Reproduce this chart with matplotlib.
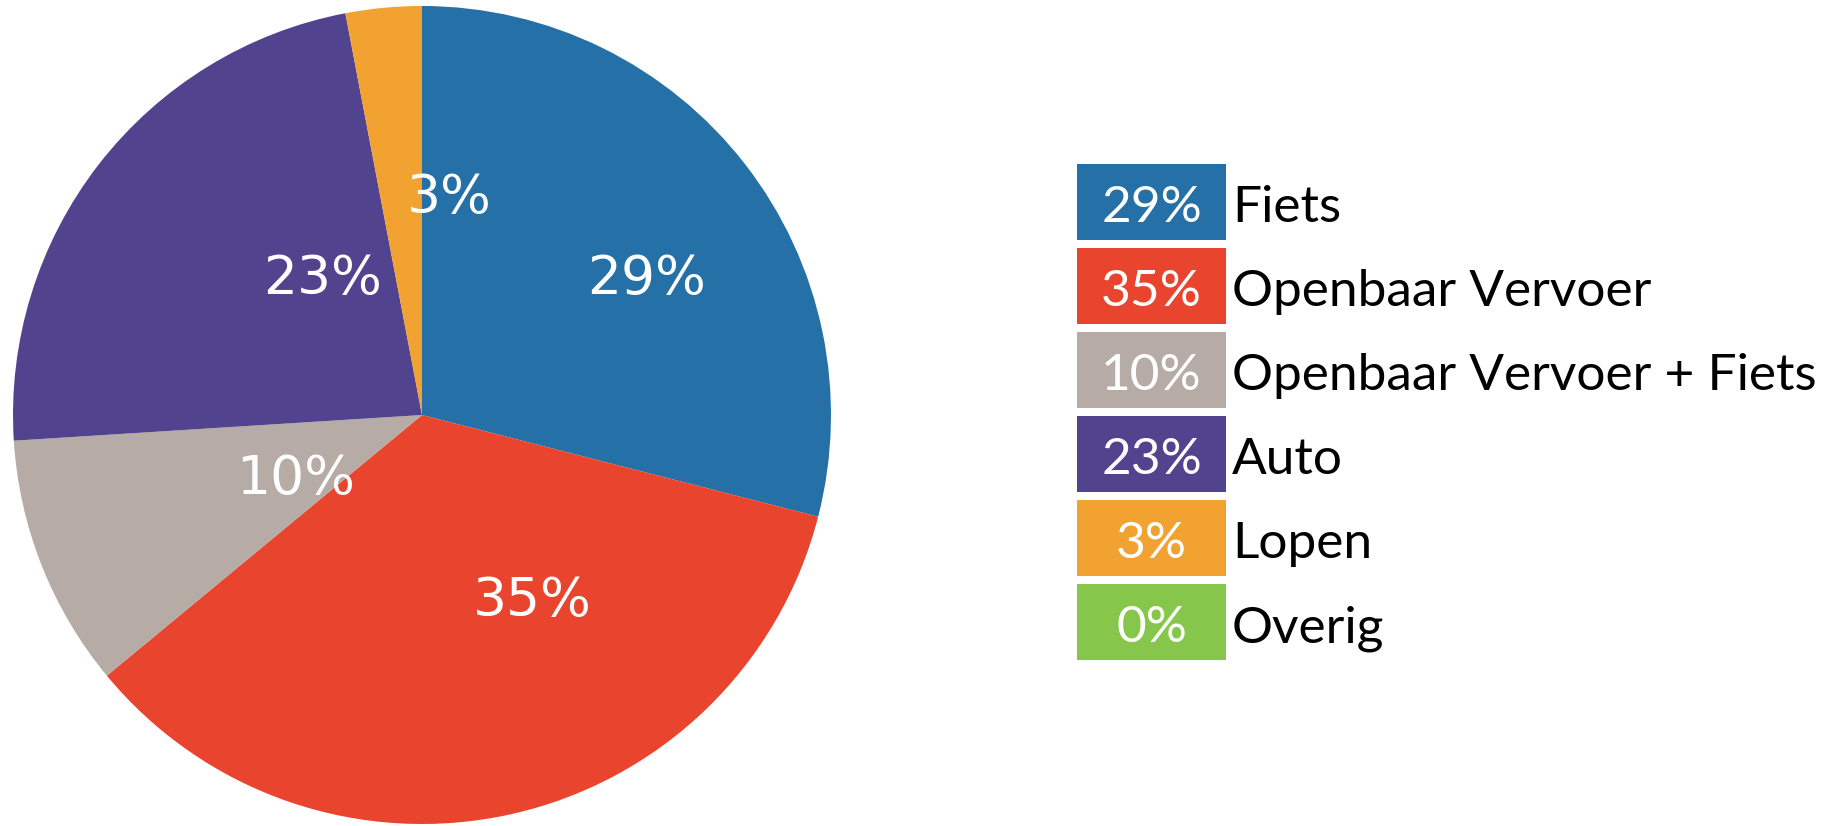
import matplotlib.pyplot as plt
import numpy as np

# data
categories = ['Fiets', 'Openbaar Vervoer', 'Openbaar Vervoer + Fiets', 'Auto', 'Lopen', 'Overig']
shares = [29, 35, 10, 23, 3, 0]
colors = ['#2470a7', '#e9442d', '#b6aba5', '#51438d', '#f2a231', '#86c74b']

# where the percentages sit inside the pie (in pie radius units)
label_xy = [(0.548, 0.333), (0.269, -0.455), (-0.308, -0.156),
            (-0.242, 0.333), (0.068, 0.531), (0.0, 0.0)]

W, H = 1840, 826
fig = plt.figure(figsize=(W / 100, H / 100), dpi=100)

# pie
cx, cy, r = 422, 826 - 415, 409
ax = fig.add_axes([(cx - r) / W, (cy - r) / H, 2 * r / W, 2 * r / H])
wedges, texts, autotexts = ax.pie(shares, colors=colors, startangle=90, counterclock=False,
                                  radius=1, autopct='%d%%', pctdistance=0.5,
                                  wedgeprops=dict(linewidth=0),
                                  textprops=dict(color='white', fontsize=38.5,
                                                 family='DejaVu Sans'))
for t, v, xy in zip(autotexts, shares, label_xy):
    t.set_position(xy)
    t.set_va('center')
    if v == 0:
        t.set_visible(False)
ax.set_xlim(-1, 1)
ax.set_ylim(-1, 1)
ax.set_aspect('equal')
ax.axis('off')

# legend as a column of boxes
pitch = 84
n = len(categories)
lx = 1077
top = 160
lax = fig.add_axes([lx / W, (H - top - n * pitch) / H, (W - lx) / W, n * pitch / H])
rows = np.arange(n)
lax.barh(rows, 149, height=76 / pitch, left=0, color=colors, edgecolor='none')
for i, (cat, v) in enumerate(zip(categories, shares)):
    lax.text(74.5, i + 0.24, f'{v}%', ha='center', va='baseline', color='white',
             fontsize=37, family='Lato')
    lax.text(155, i + 0.24, cat, ha='left', va='baseline', color='black',
             fontsize=37, family='Lato')
lax.set_xlim(0, W - lx)
lax.set_ylim(n - 0.5, -0.5)
lax.axis('off')

fig.savefig('out.png', dpi=100)
